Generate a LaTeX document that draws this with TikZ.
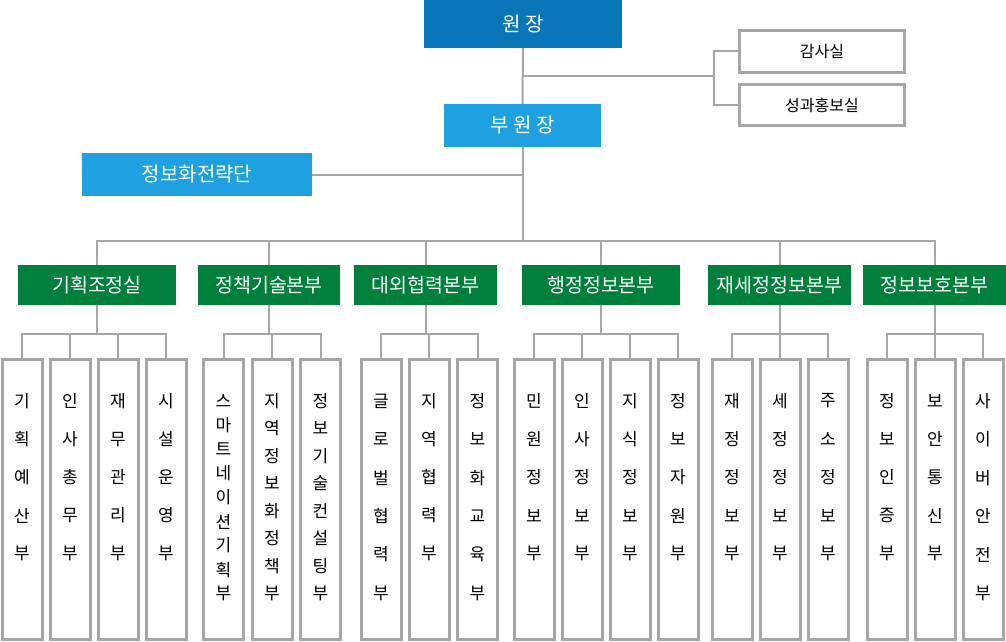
\documentclass[tikz,border=0pt]{standalone}
\usepackage{fontspec}
\setmainfont{Noto Sans CJK KR}
\begin{document}
\begin{tikzpicture}[x=1pt,y=-1pt,
  conn/.style={draw=lgray,line width=2pt},
  topbox/.style={inner sep=0pt,text=white,font=\fontsize{20}{22}\selectfont},
  gbox/.style={fill=hgreen,inner sep=0pt,minimum height=40pt,text=white,font=\fontsize{19.5}{22}\selectfont},
  wbox/.style={draw=bgray,line width=3pt,fill=white,inner sep=0pt,font=\fontsize{16}{18}\selectfont},
  vbox/.style={draw=bgray,line width=3pt,fill=white,inner sep=0pt,minimum width=40pt,minimum height=280pt},
  vch/.style={inner sep=0pt,font=\fontsize{17}{18}\selectfont}]
\definecolor{lgray}{HTML}{A6A6A6}
\definecolor{bgray}{HTML}{A6A6A6}
\definecolor{dblue}{HTML}{0A76BA}
\definecolor{lblue}{HTML}{1EA0E1}
\definecolor{hgreen}{HTML}{00803C}
\useasboundingbox (0,0) rectangle (1006,642);
\fill[white] (0,0) rectangle (1006,642);
% top boxes
\node[topbox,fill=dblue,minimum width=198pt,minimum height=48pt] (won) at (523,24) {원 장};
\node[topbox,fill=lblue,minimum width=157pt,minimum height=43pt] (bu) at (522.5,125.5) {부 원 장};
\node[topbox,fill=lblue,minimum width=230pt,minimum height=43pt] (jb) at (197,174.5) {정보화전략단};
\node[wbox,minimum width=165pt,minimum height=42pt] (gam) at (822,51.5) {감사실};
\node[wbox,minimum width=165pt,minimum height=41pt] (song) at (822,105) {성과홍보실};
% headers
\node[gbox,minimum width=158pt] (h1) at (97,285) {기획조정실};
\node[gbox,minimum width=142pt] (h2) at (269,285) {정책기술본부};
\node[gbox,minimum width=143pt] (h3) at (425.5,285) {대외협력본부};
\node[gbox,minimum width=158pt] (h4) at (601,285) {행정정보본부};
\node[gbox,minimum width=143pt] (h5) at (779.5,285) {재세정정보본부};
\node[gbox,minimum width=143pt] (h6) at (934.5,285) {정보보호본부};
% coordinates for buses
\coordinate (br) at (714,76);
\coordinate (tb) at (0,241);
\coordinate (sb) at (0,334);
% top connectors
\draw[conn] (won.south) -- (bu.north);
\draw[conn] (won.south |- br) -- (br);
\draw[conn] (gam.west) -- (gam.west -| br) -- (song.west -| br) -- (song.west);
\draw[conn] (jb.east) -- (jb.east -| bu.south);
\draw[conn] (bu.south) -- (bu.south |- tb);
\draw[conn] (h1.north) -- (h1.north |- tb) -- (h6.north |- tb) -- (h6.north);
\foreach \h in {h2,h3,h4,h5} {\draw[conn] (\h.north) -- (\h.north |- tb);}
% vertical boxes
\foreach \n/\x/\sp/\chars in {
  b11/22/38.2/{기,획,예,산,부},
  b12/70/38.2/{인,사,총,무,부},
  b13/118/38.2/{재,무,관,리,부},
  b14/166/38.2/{시,설,운,영,부},
  b21/223.5/24.1/{스,마,트,네,이,션,기,획,부},
  b22/272/27.5/{지,역,정,보,화,정,책,부},
  b23/320.5/27.5/{정,보,기,술,컨,설,팅,부},
  b31/381/38.4/{글,로,벌,협,력,부},
  b32/429/38.2/{지,역,협,력,부},
  b33/477.5/38.4/{정,보,화,교,육,부},
  b41/534/38.2/{민,원,정,보,부},
  b42/582/38.2/{인,사,정,보,부},
  b43/630/38.2/{지,식,정,보,부},
  b44/678/38.2/{정,보,자,원,부},
  b51/732/38.2/{재,정,정,보,부},
  b52/780/38.2/{세,정,정,보,부},
  b53/828/38.2/{주,소,정,보,부},
  b61/887/38.2/{정,보,인,증,부},
  b62/935/38.2/{보,안,통,신,부},
  b63/983/38.4/{사,이,버,안,전,부}} {
  \node[vbox] (\n) at (\x,499.5) {};
  \foreach \c [count=\i from 0] in \chars {
    \node[vch] (\n-\i) at (\x,401+\i*\sp) {\c};
  }
}
% group connectors
\draw[conn] (h1.south) -- (h1.south |- sb);
\draw[conn] (b11.north) -- (b11.north |- sb) -- (b14.north |- sb) -- (b14.north);
\foreach \b in {b12,b13} {\draw[conn] (\b.north) -- (\b.north |- sb);}
\draw[conn] (h2.south) -- (h2.south |- sb);
\draw[conn] (b21.north) -- (b21.north |- sb) -- (b23.north |- sb) -- (b23.north);
\draw[conn] (b22.north) -- (b22.north |- sb);
\draw[conn] (h3.south) -- (h3.south |- sb);
\draw[conn] (b31.north) -- (b31.north |- sb) -- (b33.north |- sb) -- (b33.north);
\draw[conn] (b32.north) -- (b32.north |- sb);
\draw[conn] (h4.south) -- (h4.south |- sb);
\draw[conn] (b41.north) -- (b41.north |- sb) -- (b44.north |- sb) -- (b44.north);
\foreach \b in {b42,b43} {\draw[conn] (\b.north) -- (\b.north |- sb);}
\draw[conn] (h5.south) -- (h5.south |- sb);
\draw[conn] (b51.north) -- (b51.north |- sb) -- (b53.north |- sb) -- (b53.north);
\draw[conn] (b52.north) -- (b52.north |- sb);
\draw[conn] (h6.south) -- (h6.south |- sb);
\draw[conn] (b61.north) -- (b61.north |- sb) -- (b63.north |- sb) -- (b63.north);
\draw[conn] (b62.north) -- (b62.north |- sb);
\end{tikzpicture}
\end{document}
